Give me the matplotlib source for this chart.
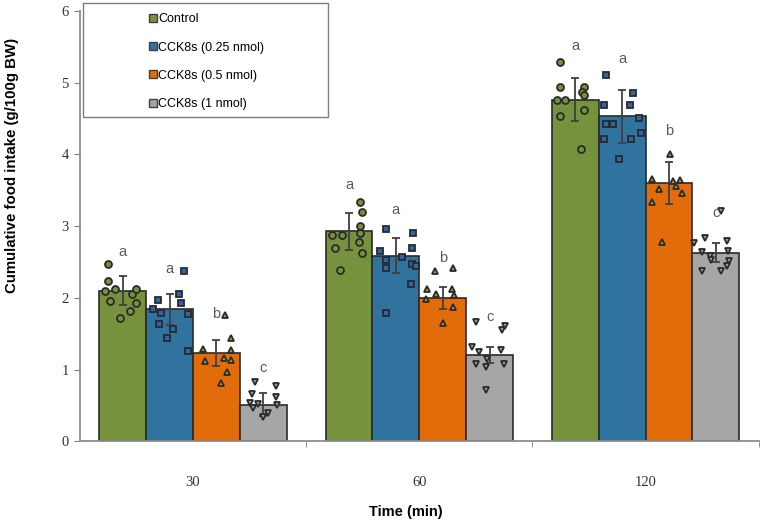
import matplotlib.pyplot as plt
import matplotlib.patches as patches
from matplotlib.lines import Line2D
import numpy as np

times = ['30', '60', '120']
groups = ['Control', 'CCK8s (0.25 nmol)', 'CCK8s (0.5 nmol)', 'CCK8s (1 nmol)']

means_ctrl = [2.10, 2.93, 4.76]
means_025 = [1.84, 2.59, 4.53]
means_05 = [1.23, 2.00, 3.60]
means_1 = [0.51, 1.20, 2.63]

sem_ctrl = [0.20, 0.26, 0.30]
sem_025 = [0.22, 0.25, 0.37]
sem_05 = [0.18, 0.15, 0.29]
sem_1 = [0.16, 0.11, 0.13]

# individual animals, per time point
pts_ctrl = [
    [2.47, 2.23, 2.09, 2.13, 2.06, 2.12, 1.96, 1.93, 1.81, 1.72],
    [3.34, 3.20, 3.00, 2.87, 2.88, 2.91, 2.78, 2.70, 2.63, 2.39],
    [5.29, 4.94, 4.94, 4.87, 4.83, 4.76, 4.76, 4.62, 4.54, 4.07],
]
pts_025 = [
    [2.37, 2.06, 1.97, 1.93, 1.85, 1.79, 1.77, 1.64, 1.57, 1.44, 1.26],
    [2.96, 2.90, 2.70, 2.65, 2.53, 2.57, 2.41, 2.47, 2.44, 2.19, 1.79],
    [5.11, 4.86, 4.69, 4.69, 4.51, 4.42, 4.42, 4.30, 4.21, 4.21, 3.93],
]
pts_05 = [
    [1.76, 1.44, 1.28, 1.27, 1.12, 1.16, 1.13, 0.96, 0.81],
    [2.37, 2.42, 2.12, 2.06, 2.12, 1.98, 2.04, 1.87, 1.65],
    [4.00, 3.66, 3.63, 3.65, 3.52, 3.56, 3.46, 3.34, 2.78],
]
pts_1 = [
    [0.83, 0.77, 0.66, 0.62, 0.53, 0.52, 0.50, 0.46, 0.39, 0.34],
    [1.66, 1.61, 1.55, 1.32, 1.24, 1.27, 1.08, 1.04, 1.08, 1.15, 0.72],
    [3.21, 2.77, 2.84, 2.79, 2.64, 2.66, 2.59, 2.53, 2.52, 2.44, 2.38, 2.38],
]

# horizontal scatter of the dots, as fraction of bar width
jit_ctrl = [
    [-0.31, -0.31, -0.39, -0.17, 0.20, 0.29, -0.27, 0.29, 0.16, -0.07],
    [0.24, 0.27, 0.24, -0.36, -0.14, 0.24, 0.21, -0.29, 0.28, -0.20],
    [-0.32, -0.32, 0.18, 0.14, 0.19, -0.39, -0.23, 0.18, -0.32, 0.12],
]
jit_025 = [
    [0.31, 0.19, -0.25, 0.24, -0.36, -0.18, 0.40, -0.22, 0.08, -0.05, 0.40],
    [-0.21, 0.36, 0.34, -0.33, -0.22, 0.13, -0.21, 0.34, 0.43, 0.32, -0.21],
    [-0.35, 0.24, -0.38, 0.17, 0.35, -0.35, -0.19, 0.41, -0.38, 0.19, -0.06],
]
jit_05 = [
    [0.18, 0.30, -0.29, 0.31, -0.24, 0.17, 0.32, 0.22, 0.09],
    [-0.17, 0.21, -0.34, -0.14, 0.20, -0.36, 0.23, 0.21, 0.00],
    [0.02, -0.37, 0.09, 0.23, -0.21, 0.14, 0.28, -0.37, -0.16],
]
jit_1 = [
    [-0.18, 0.28, -0.25, 0.28, -0.29, -0.11, 0.30, -0.22, 0.10, 0.00],
    [-0.29, 0.33, 0.26, -0.37, -0.22, 0.24, -0.29, -0.07, 0.31, -0.05, -0.07],
    [0.10, -0.47, -0.24, 0.24, -0.30, 0.26, -0.13, -0.11, 0.29, 0.24, -0.29, 0.10],
]

letters_ctrl = ['a', 'a', 'a']
letters_025 = ['a', 'a', 'a']
letters_05 = ['b', 'b', 'b']
letters_1 = ['c', 'c', 'c']
letter_y_ctrl = [2.64, 3.57, 5.52]
letter_y_025 = [2.40, 3.22, 5.33]
letter_y_05 = [1.77, 2.55, 4.33]
letter_y_1 = [1.02, 1.73, 3.18]

means = [means_ctrl, means_025, means_05, means_1]
sems = [sem_ctrl, sem_025, sem_05, sem_1]
pts = [pts_ctrl, pts_025, pts_05, pts_1]
jits = [jit_ctrl, jit_025, jit_05, jit_1]
letters = [letters_ctrl, letters_025, letters_05, letters_1]
letter_ys = [letter_y_ctrl, letter_y_025, letter_y_05, letter_y_1]

bar_colors = ['#77923C', '#31739F', '#E36C0A', '#A6A6A6']
dot_face = ['#77923C', '#2E65AE', '#A59B3A', '#A0A0A0']
markers = ['o', 's', '^', 'v']
edge = '#2A2A2A'

fig = plt.figure(figsize=(7.61, 5.29), dpi=100)
ax = fig.add_axes([0.105, 0.166, 0.892, 0.813])

w = 0.207
x = np.arange(len(times))
for i in range(4):
    xi = x + (i - 1.5) * w
    ax.bar(xi, means[i], width=w, color=bar_colors[i], edgecolor=edge,
           linewidth=1.2, zorder=2)
    ax.errorbar(xi, means[i], yerr=sems[i], fmt='none', ecolor='#404040',
                elinewidth=1.3, capsize=3, capthick=1.3, zorder=4)
    for g in range(len(times)):
        px = xi[g] + np.array(jits[i][g]) * w
        ax.plot(px, pts[i][g], linestyle='none', marker=markers[i], ms=5,
                mfc=dot_face[i], mec=edge, mew=1.3, zorder=5)
        ax.text(xi[g], letter_ys[i][g], letters[i][g], ha='center', va='center',
                fontsize=10.5, color='#5A5A5A', family='Liberation Sans', zorder=6)

ax.set_xlim(-0.5, 2.5)
ax.set_ylim(0, 6)
ax.set_yticks(range(7))
ax.set_xticks(x)
ax.set_xticklabels(times)
ax.set_xticks([0.5, 1.5, 2.5], minor=True)
ax.tick_params(axis='x', which='major', length=0, pad=25)
ax.tick_params(axis='x', which='minor', length=4, color='#808080', direction='out')
ax.tick_params(axis='y', length=4, color='#808080', direction='out', pad=4)
for lab in ax.get_xticklabels() + ax.get_yticklabels():
    lab.set_family('Liberation Serif')
    lab.set_fontsize(10.5)
    lab.set_color('#333333')

for s in ['top', 'right']:
    ax.spines[s].set_visible(False)
for s in ['left', 'bottom']:
    ax.spines[s].set_color('#8C8C8C')
    ax.spines[s].set_linewidth(1.3)

fig.text(12 / 761, 1 - 165 / 529, 'Cumulative food intake (g/100g BW)', rotation=90,
         ha='center', va='center', fontsize=10.8, fontweight='bold', family='Liberation Sans')
fig.text(406 / 761, 1 - 512 / 529, 'Time (min)', ha='center', va='center',
         fontsize=10.5, fontweight='bold', family='Liberation Sans')

# legend box
fig.patches.append(patches.Rectangle((83 / 761, 1 - 117 / 529), 245 / 761, 114 / 529,
                                     transform=fig.transFigure, fill=False,
                                     edgecolor='#7F7F7F', linewidth=1.0, zorder=10))
handles = [Line2D([], [], linestyle='none', marker='s', ms=5.5, mfc=c, mec='#404040', mew=1.0)
           for c in bar_colors]
fig.legend(handles, groups, loc='upper left', bbox_to_anchor=(137 / 761, 1 - 2 / 529),
           frameon=False, handlelength=0.7, handletextpad=0.1, labelspacing=1.3,
           prop={'family': 'Liberation Sans', 'size': 9})

fig.savefig('out.png', dpi=100)
